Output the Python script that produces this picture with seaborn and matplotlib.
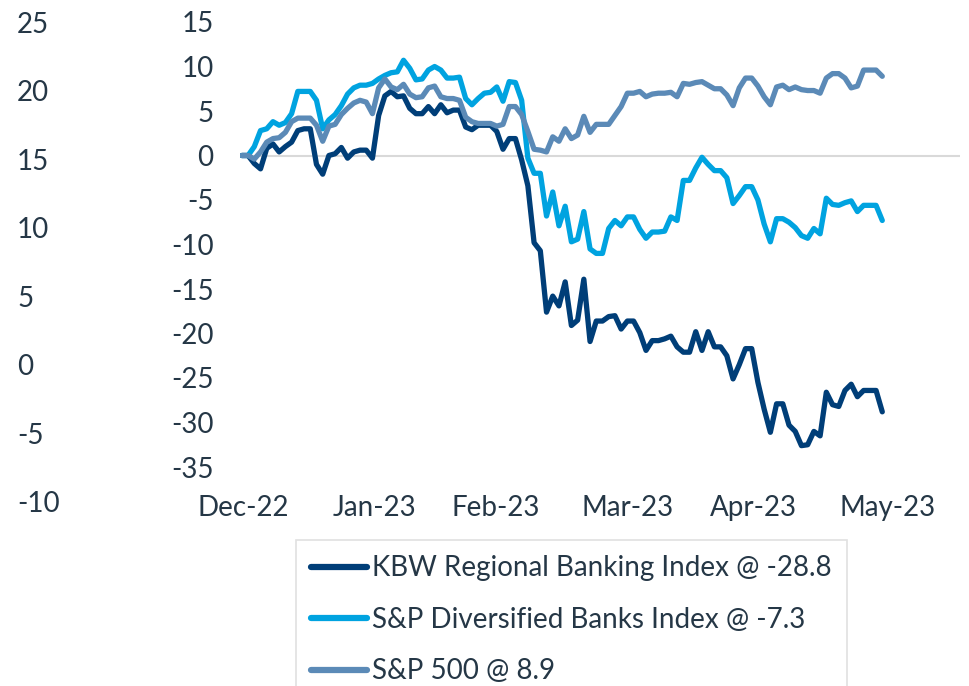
import pandas as pd
import matplotlib.pyplot as plt
import seaborn as sns

# trading-day index (Dec-22 .. early May-23), cumulative % change
kbw = [0, 0, -0.9, -1.5, 0.8, 1.3, 0.4, 1.0, 1.5, 2.8,
       3.0, 3.0, -1.0, -2.1, 0.0, 0.2, 0.9, -0.3, 0.4, 0.6,
       0.6, -0.3, 4.5, 6.7, 7.2, 6.6, 6.7, 5.3, 4.7, 4.7,
       5.5, 4.7, 5.7, 4.8, 5.1, 5.1, 3.2, 2.9, 3.4, 3.4,
       3.4, 2.7, 0.7, 1.9, 1.9, -0.5, -3.4, -9.8, -10.7, -17.6,
       -15.8, -16.9, -14.2, -19.1, -18.5, -13.9, -20.9, -18.6, -18.6, -18.1,
       -18.0, -19.5, -18.6, -18.6, -19.9, -21.9, -20.8, -20.8, -20.6, -20.3,
       -21.5, -22.1, -22.1, -19.8, -21.9, -19.8, -21.5, -21.5, -22.5, -25.1,
       -23.5, -21.7, -21.7, -25.5, -28.5, -31.1, -27.9, -27.9, -30.3, -31.0,
       -32.6, -32.5, -31.0, -31.5, -26.6, -28.0, -28.2, -26.4, -25.7, -27.1,
       -26.4, -26.4, -26.4, -28.8]

div_banks = [0, 0, 1.0, 2.8, 3.0, 3.8, 3.4, 3.7, 4.7, 7.2,
             7.2, 7.2, 6.2, 3.0, 4.0, 4.6, 5.6, 6.9, 7.6, 7.9,
             7.9, 8.1, 8.6, 9.0, 9.3, 9.4, 10.7, 9.8, 8.5, 8.6,
             9.6, 10.0, 9.6, 8.7, 8.7, 8.8, 6.4, 5.7, 6.4, 7.0,
             7.1, 7.7, 6.1, 8.3, 8.2, 6.2, -0.3, -2.0, -2.0, -6.8,
             -4.1, -7.9, -5.7, -9.7, -9.4, -6.3, -10.5, -11.0, -11.0, -8.2,
             -7.3, -7.9, -6.9, -6.9, -8.3, -9.3, -8.6, -8.6, -8.5, -6.9,
             -7.3, -2.8, -2.8, -1.4, -0.2, -1.0, -1.7, -1.7, -2.5, -5.4,
             -4.5, -3.5, -3.5, -5.0, -7.7, -9.7, -7.1, -7.1, -7.5, -8.1,
             -9.0, -9.3, -8.2, -8.8, -4.8, -5.5, -5.6, -5.3, -5.1, -6.3,
             -5.6, -5.6, -5.6, -7.3]

sp500 = [0, 0, -0.4, 0.4, 1.5, 1.9, 2.0, 2.6, 3.8, 4.2,
         4.2, 4.2, 3.4, 1.6, 3.3, 3.5, 4.6, 5.3, 5.9, 6.2,
         6.0, 4.7, 7.6, 8.6, 7.7, 7.4, 8.0, 6.9, 6.5, 6.6,
         7.6, 7.8, 6.6, 6.4, 6.4, 6.2, 4.3, 3.8, 3.6, 3.6,
         3.6, 3.3, 3.5, 5.5, 5.5, 4.6, 2.7, 0.7, 0.6, 0.4,
         2.1, 1.6, 3.0, 1.9, 2.3, 4.4, 2.6, 3.5, 3.5, 3.5,
         4.5, 5.5, 7.0, 7.0, 7.2, 6.6, 6.9, 7.0, 7.0, 7.1,
         6.6, 8.1, 8.0, 8.2, 8.3, 7.9, 7.5, 7.5, 6.8, 5.6,
         7.6, 8.7, 8.7, 7.8, 6.6, 5.7, 7.7, 7.9, 7.4, 7.7,
         7.4, 7.3, 7.3, 7.0, 8.7, 9.2, 9.2, 8.7, 7.6, 7.8,
         9.6, 9.6, 9.6, 8.9]

series_names = ["KBW Regional Banking Index @ -28.8",
                "S&P Diversified Banks Index @ -7.3",
                "S&P 500 @ 8.9"]
colors = ["#003E78", "#00A3E0", "#5B8AB7"]

month_labels = ["Dec-22", "Jan-23", "Feb-23", "Mar-23", "Apr-23", "May-23"]
month_pos = [0.3, 21.3, 40.8, 62, 82.3, 103.8]
left_ticks = [25, 20, 15, 10, 5, 0, -5, -10]
main_ticks = [15, 10, 5, 0, -5, -10, -15, -20, -25, -30, -35]

df = pd.concat([
    pd.DataFrame({"day": range(len(v)), "pct": v, "series": n})
    for n, v in zip(series_names, [kbw, div_banks, sp500])
])

sns.set_style("white")
plt.rcParams["font.family"] = ["Lato", "DejaVu Sans"]
txt = "#253746"

W, H = 969, 686
fig = plt.figure(figsize=(W / 100, H / 100), dpi=100)

# main axes
ax = fig.add_axes([240 / W, 1 - 467 / H, 720 / W, 445 / H])
ax.axhline(0, color="#D9D9D9", lw=1.5, zorder=0)
sns.lineplot(data=df, x="day", y="pct", hue="series",
             palette=dict(zip(series_names, colors)), lw=3.8, ax=ax,
             legend=False)
for ln in ax.get_lines()[1:]:
    ln.set_solid_capstyle("round")
    ln.set_solid_joinstyle("round")
ax.set_xlim(-0.3, 115.5)
ax.set_ylim(-35, 15)
ax.set_yticks(main_ticks)
ax.set_yticklabels([str(t) for t in main_ticks])
ax.set_xticks(month_pos)
ax.set_xticklabels(month_labels)
ax.tick_params(axis="both", length=0, labelsize=20, colors=txt)
ax.tick_params(axis="y", pad=19)
ax.tick_params(axis="x", pad=20)
ax.set_xlabel("")
ax.set_ylabel("")
sns.despine(ax=ax, left=True, bottom=True)

# ghost secondary scale on the far left
ax0 = fig.add_axes([17 / W, 1 - 502 / H, 0.0001, 480 / H])
ax0.set_ylim(-10, 25)
ax0.set_yticks(left_ticks)
ax0.set_yticklabels([str(t) for t in left_ticks])
ax0.yaxis.tick_right()
ax0.tick_params(axis="y", length=0, labelsize=20, colors=txt, pad=0)
ax0.set_xticks([])
for s in ax0.spines.values():
    s.set_visible(False)
ax0.patch.set_alpha(0)

# legend
handles = [plt.Line2D([], [], color=c, lw=4.5) for c in colors]
leg = fig.legend(handles, series_names, loc="upper left",
                 bbox_to_anchor=(296 / W, 1 - 540 / H), borderaxespad=0,
                 frameon=True, fancybox=False, fontsize=20,
                 handlelength=2.0, handletextpad=0.2, labelspacing=0.92,
                 borderpad=0.55, labelcolor=txt)
leg.get_frame().set_edgecolor("#D9D9D9")
leg.get_frame().set_linewidth(1.2)

fig.savefig("out.png", dpi=100)
